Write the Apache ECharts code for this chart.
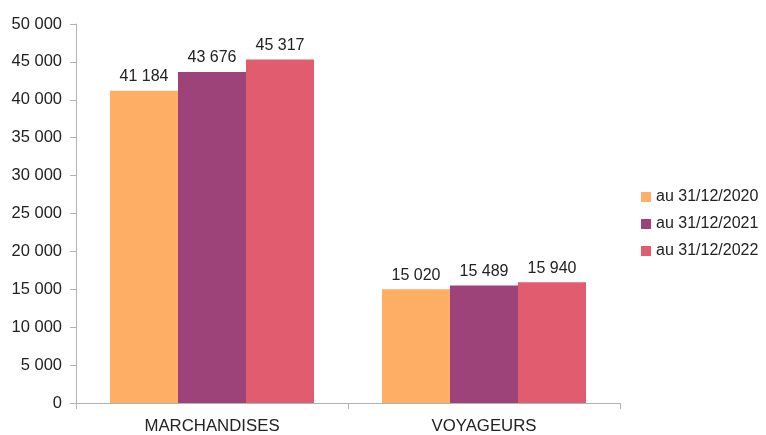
<!DOCTYPE html>
<html>
<head>
<meta charset="utf-8">
<script src="https://cdn.jsdelivr.net/npm/echarts@6/dist/echarts.min.js"></script>
<style>
  html, body { margin: 0; padding: 0; background: #fff; }
  #chart { width: 766px; height: 435px; }
</style>
</head>
<body>
<div id="chart"></div>
<script>
// Categories and yearly series
const categories = ['MARCHANDISES', 'VOYAGEURS'];
const seriesNames = ['au 31/12/2020', 'au 31/12/2021', 'au 31/12/2022'];
const values2020 = [41184, 15020];
const values2021 = [43676, 15489];
const values2022 = [45317, 15940];
const colors = ['#FEAF65', '#9E4379', '#E05C6E'];

// French-style thousands separator
function fmt(v) {
  return String(v).replace(/\B(?=(\d{3})+(?!\d))/g, ' ');
}

const font = 'Liberation Sans, Arial, sans-serif';
const chart = echarts.init(document.getElementById('chart'), null, { renderer: 'canvas' });

const seriesData = [values2020, values2021, values2022];

chart.setOption({
  animation: false,
  textStyle: { fontFamily: font },
  grid: { left: 76, right: 146, top: 24, bottom: 31, containLabel: false },
  legend: {
    orient: 'vertical',
    left: 641,
    top: 189,
    padding: 0,
    itemWidth: 10,
    itemHeight: 10,
    itemGap: 11,
    icon: 'rect',
    textStyle: { fontFamily: font, fontSize: 16, color: '#222', lineHeight: 16 },
    data: seriesNames
  },
  xAxis: {
    type: 'category',
    data: categories,
    axisLine: { lineStyle: { color: '#b3b3b3', width: 1 } },
    axisTick: { show: true, length: 6, alignWithLabel: false, lineStyle: { color: '#b3b3b3' } },
    axisLabel: { fontFamily: font, fontSize: 16.8, color: '#222', margin: 15 },
    splitLine: { show: false }
  },
  yAxis: {
    type: 'value',
    min: 0,
    max: 50000,
    interval: 5000,
    axisLine: { show: true, lineStyle: { color: '#b3b3b3', width: 1 } },
    axisTick: { show: true, length: 6, lineStyle: { color: '#b3b3b3' } },
    axisLabel: { fontFamily: font, fontSize: 16.5, color: '#222', margin: 14, formatter: fmt },
    splitLine: { show: false }
  },
  series: seriesNames.map((name, i) => ({
    name: name,
    type: 'bar',
    data: seriesData[i],
    barGap: '0%',
    barCategoryGap: '25%',
    itemStyle: { color: colors[i] },
    label: {
      show: true,
      position: 'top',
      distance: 6,
      fontFamily: font,
      fontSize: 16,
      color: '#222',
      formatter: p => fmt(p.value)
    }
  }))
});
</script>
</body>
</html>
